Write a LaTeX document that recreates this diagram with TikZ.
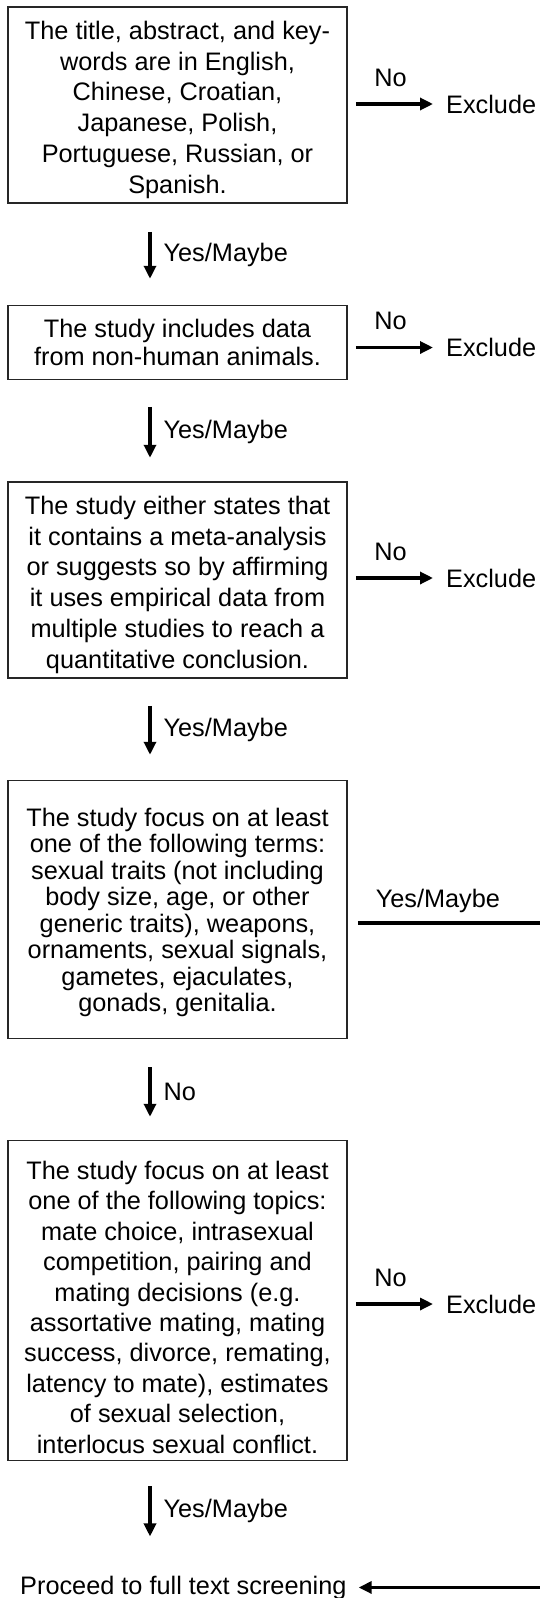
\documentclass[tikz,border=0pt]{standalone}
\usepackage{fontspec}
\setmainfont{Liberation Sans}
\usetikzlibrary{arrows.meta,calc}
\begin{document}
\begin{tikzpicture}[
  box/.style={draw=black!85, line width=1.5pt, minimum width=339pt, inner sep=0pt, align=center},
  f308/.style={font=\fontsize{25.3pt}{30.8pt}\selectfont},
  f28/.style={font=\fontsize{25.3pt}{28pt}\selectfont},
  f265/.style={font=\fontsize{25.3pt}{26.5pt}\selectfont},
  f304/.style={font=\fontsize{25.3pt}{30.4pt}\selectfont},
  lbl/.style={inner sep=0pt, font=\fontsize{25.3pt}{30pt}\selectfont},
  arr/.style={line width=3.2pt, -{Triangle[length=13pt,width=12pt]}},
]
\useasboundingbox (0,0) rectangle (539pt,-1598pt);
\coordinate (ax) at (150pt,0pt);

\node[box, f308, minimum height=196pt] (b1) at (177.5pt,-105pt)
  {\rule{0pt}{28pt}The title, abstract, and key-\\words are in English,\\Chinese, Croatian,\\Japanese, Polish,\\Portuguese, Russian, or\\Spanish.};
\node[box, f28, minimum height=74pt] (b2) at (177.5pt,-342.5pt)
  {The study includes data\\from non-human animals.};
\node[box, f308, minimum height=196pt] (b3) at (177.5pt,-580pt)
  {\rule{0pt}{28pt}The study either states that\\it contains a meta-analysis\\or suggests so by affirming\\it uses empirical data from\\multiple studies to reach a\\quantitative conclusion.};
\node[box, f265, minimum height=258pt] (b4) at (177.5pt,-909.5pt)
  {\rule{0pt}{24pt}The study focus on at least\\one of the following terms:\\sexual traits (not including\\body size, age, or other\\generic traits), weapons,\\ornaments, sexual signals,\\gametes, ejaculates,\\gonads, genitalia.};
\node[box, f304, minimum height=320pt] (b5) at (177.5pt,-1300.5pt)
  {\rule{0pt}{32pt}The study focus on at least\\one of the following topics:\\mate choice, intrasexual\\competition, pairing and\\mating decisions (e.g.\\assortative mating, mating\\success, divorce, remating,\\latency to mate), estimates\\of sexual selection,\\interlocus sexual conflict.};
\node[lbl, anchor=base west] (pr) at (20pt,-1594pt) {Proceed to full text screening};

\node[lbl, anchor=west] (e1) at (446pt,-104pt) {Exclude};
\node[lbl, anchor=west] (e2) at (446pt,-347.5pt) {Exclude};
\node[lbl, anchor=west] (e3) at (446pt,-578pt) {Exclude};
\node[lbl, anchor=west] (e5) at (446pt,-1304pt) {Exclude};

\draw[arr] ($(b1.east |- e1.west)+(8pt,0)$) -- node[lbl, pos=0.45, above=16pt]{No} ($(e1.west)+(-13pt,0)$);
\draw[arr] ($(b2.east |- e2.west)+(8pt,0)$) -- node[lbl, pos=0.45, above=16pt]{No} ($(e2.west)+(-13pt,0)$);
\draw[arr] ($(b3.east |- e3.west)+(8pt,0)$) -- node[lbl, pos=0.45, above=16pt]{No} ($(e3.west)+(-13pt,0)$);
\draw[arr] ($(b5.east |- e5.west)+(8pt,0)$) -- node[lbl, pos=0.45, above=16pt]{No} ($(e5.west)+(-13pt,0)$);

\draw[arr] ($(b1.south -| ax)+(0,-28pt)$) -- node[lbl, right=12pt]{Yes/Maybe} ($(b2.north -| ax)+(0,26pt)$);
\draw[arr] ($(b2.south -| ax)+(0,-26.5pt)$) -- node[lbl, right=12pt]{Yes/Maybe} ($(b3.north -| ax)+(0,23.5pt)$);
\draw[arr] ($(b3.south -| ax)+(0,-27pt)$) -- node[lbl, right=12pt]{Yes/Maybe} ($(b4.north -| ax)+(0,25pt)$);
\draw[arr] ($(b4.south -| ax)+(0,-28pt)$) -- node[lbl, right=12pt]{No} ($(b5.north -| ax)+(0,23pt)$);
\draw[arr] ($(b5.south -| ax)+(0,-25pt)$) -- node[lbl, right=12pt]{Yes/Maybe} ($(pr.north -| ax)+(0,39pt)$);

\coordinate (rt) at (542pt,-923pt);
\coordinate (rb) at (rt |- pr.east);
\draw[arr] ($(b4.east)+(10pt,-13.5pt)$) -- node[lbl, pos=0.435, above=9pt]{Yes/Maybe} (rt) -- (rb) -- ($(pr.east)+(12pt,0)$);
\end{tikzpicture}
\end{document}
